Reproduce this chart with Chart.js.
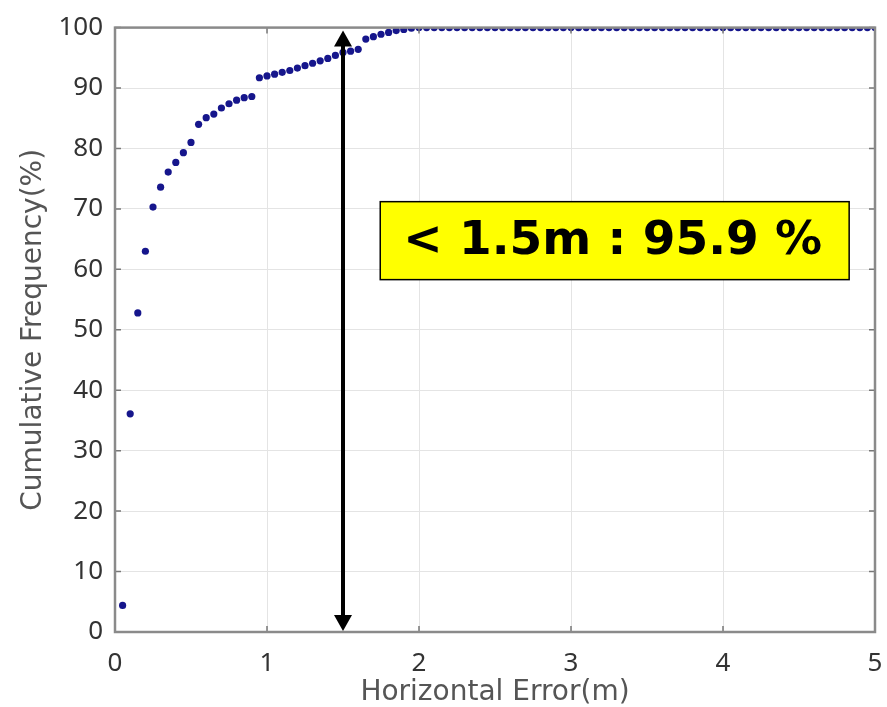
<!DOCTYPE html>
<html>
<head>
<meta charset="utf-8">
<script src="https://cdn.jsdelivr.net/npm/chart.js@4"></script>
<style>
  html, body { margin: 0; padding: 0; background: #fff; }
  #wrap { width: 887px; height: 707px; }
</style>
</head>
<body>
<div id="wrap"><canvas id="c" width="887" height="707"></canvas></div>
<script>
// ---- data ----
const errorM = [
  0.05,0.10,0.15,0.20,0.25,0.30,0.35,0.40,0.45,0.50,
  0.55,0.60,0.65,0.70,0.75,0.80,0.85,0.90,0.95,1.00,
  1.05,1.10,1.15,1.20,1.25,1.30,1.35,1.40,1.45,1.50,
  1.55,1.60,1.65,1.70,1.75,1.80,1.85,1.90,1.95,2.00,
  2.05,2.10,2.15,2.20,2.25,2.30,2.35,2.40,2.45,2.50,
  2.55,2.60,2.65,2.70,2.75,2.80,2.85,2.90,2.95,3.00,
  3.05,3.10,3.15,3.20,3.25,3.30,3.35,3.40,3.45,3.50,
  3.55,3.60,3.65,3.70,3.75,3.80,3.85,3.90,3.95,4.00,
  4.05,4.10,4.15,4.20,4.25,4.30,4.35,4.40,4.45,4.50,
  4.55,4.60,4.65,4.70,4.75,4.80,4.85,4.90,4.95,5.00
];
const cumFreq = [
  4.4,36.1,52.8,63.0,70.3,73.6,76.1,77.7,79.3,81.0,
  84.0,85.1,85.7,86.7,87.4,88.0,88.4,88.6,91.7,92.0,
  92.3,92.6,92.9,93.3,93.7,94.1,94.5,94.9,95.4,95.9,
  96.1,96.4,98.1,98.5,98.9,99.2,99.5,99.7,99.9,100,
  100,100,100,100,100,100,100,100,100,100,
  100,100,100,100,100,100,100,100,100,100,
  100,100,100,100,100,100,100,100,100,100,
  100,100,100,100,100,100,100,100,100,100,
  100,100,100,100,100,100,100,100,100,100,
  100,100,100,100,100,100,100,100,100,100
];
const xTicks = [0,1,2,3,4,5];
const yTicks = [0,10,20,30,40,50,60,70,80,90,100];
const markX = 1.5;
const markLabel = '< 1.5m : 95.9 %';
const xTitle = 'Horizontal Error(m)';
const yTitle = 'Cumulative Frequency(%)';

const points = errorM.map((x, i) => ({ x: x, y: cumFreq[i] }));

const AXIS_COLOR = '#8a8a8a';

const boxPlugin = {
  id: 'boxTicks',
  afterDatasetsDraw(chart) {
    const { ctx, chartArea: a, scales: { x, y } } = chart;
    ctx.save();
    // inward tick marks on all 4 sides
    ctx.strokeStyle = '#777';
    ctx.lineWidth = 1.5;
    const tl = 6;
    xTicks.forEach(v => {
      const px = x.getPixelForValue(v);
      ctx.beginPath();
      ctx.moveTo(px, a.bottom); ctx.lineTo(px, a.bottom - tl);
      ctx.moveTo(px, a.top); ctx.lineTo(px, a.top + tl);
      ctx.stroke();
    });
    yTicks.forEach(v => {
      const py = y.getPixelForValue(v);
      ctx.beginPath();
      ctx.moveTo(a.left, py); ctx.lineTo(a.left + tl, py);
      ctx.moveTo(a.right, py); ctx.lineTo(a.right - tl, py);
      ctx.stroke();
    });
    // box border
    ctx.strokeStyle = AXIS_COLOR;
    ctx.lineWidth = 2.5;
    ctx.strokeRect(a.left, a.top, a.right - a.left, a.bottom - a.top);

    // double-headed arrow at x = 1.5
    const ax = x.getPixelForValue(markX);
    const yTop = y.getPixelForValue(100) + 3;
    const yBot = y.getPixelForValue(0) - 1;
    const hl = 16, hw = 9;
    ctx.strokeStyle = '#000';
    ctx.fillStyle = '#000';
    ctx.lineWidth = 4;
    ctx.beginPath();
    ctx.moveTo(ax, yTop + hl - 2); ctx.lineTo(ax, yBot - hl + 2);
    ctx.stroke();
    ctx.beginPath();
    ctx.moveTo(ax, yTop); ctx.lineTo(ax - hw, yTop + hl); ctx.lineTo(ax + hw, yTop + hl); ctx.closePath();
    ctx.fill();
    ctx.beginPath();
    ctx.moveTo(ax, yBot); ctx.lineTo(ax - hw, yBot - hl); ctx.lineTo(ax + hw, yBot - hl); ctx.closePath();
    ctx.fill();

    // annotation box
    const bx0 = x.getPixelForValue(1.745), bx1 = x.getPixelForValue(4.83);
    const by0 = y.getPixelForValue(71.2), by1 = y.getPixelForValue(58.3);
    ctx.fillStyle = '#ffff00';
    ctx.fillRect(bx0, by0, bx1 - bx0, by1 - by0);
    ctx.strokeStyle = '#000';
    ctx.lineWidth = 1.5;
    ctx.strokeRect(bx0, by0, bx1 - bx0, by1 - by0);
    ctx.fillStyle = '#000';
    ctx.font = 'bold 47px "DejaVu Sans", sans-serif';
    ctx.textAlign = 'left';
    ctx.textBaseline = 'middle';
    ctx.fillText(markLabel, bx0 + 23, (by0 + by1) / 2 + 1);
    ctx.restore();
  }
};

new Chart(document.getElementById('c'), {
  type: 'scatter',
  data: {
    datasets: [{
      data: points,
      backgroundColor: '#16168c',
      borderWidth: 0,
      pointRadius: 3.6,
      pointHoverRadius: 3.6,
      showLine: false
    }]
  },
  options: {
    responsive: false,
    animation: false,
    events: [],
    layout: { padding: { top: 27, right: 0, left: 0, bottom: 0 } },
    plugins: { legend: { display: false }, tooltip: { enabled: false } },
    scales: {
      x: {
        type: 'linear', min: 0, max: 5,
        afterBuildTicks: s => { s.ticks = xTicks.map(v => ({ value: v })); },
        afterFit: s => { s.height = 75; s.paddingRight = 12; },
        grid: { color: '#e4e4e4', lineWidth: 1, drawTicks: false },
        border: { display: false },
        ticks: { color: '#333', padding: 16, font: { family: '"Noto Sans", sans-serif', size: 26 }, maxRotation: 0 },
        title: { display: true, text: xTitle, color: '#555', padding: { top: 0, bottom: 0 },
                 font: { family: '"DejaVu Sans", sans-serif', size: 28, lineHeight: 1 } }
      },
      y: {
        type: 'linear', min: 0, max: 100,
        afterBuildTicks: s => { s.ticks = yTicks.map(v => ({ value: v })); },
        afterFit: s => { s.width = 115; },
        grid: { color: '#e4e4e4', lineWidth: 1, drawTicks: false },
        border: { display: false },
        ticks: { color: '#333', padding: 12, font: { family: '"Noto Sans", sans-serif', size: 26 } },
        title: { display: true, text: yTitle, color: '#555', padding: { top: 20, bottom: 0 },
                 font: { family: '"DejaVu Sans", sans-serif', size: 28, lineHeight: 1 } }
      }
    }
  },
  plugins: [boxPlugin]
});
</script>
</body>
</html>
